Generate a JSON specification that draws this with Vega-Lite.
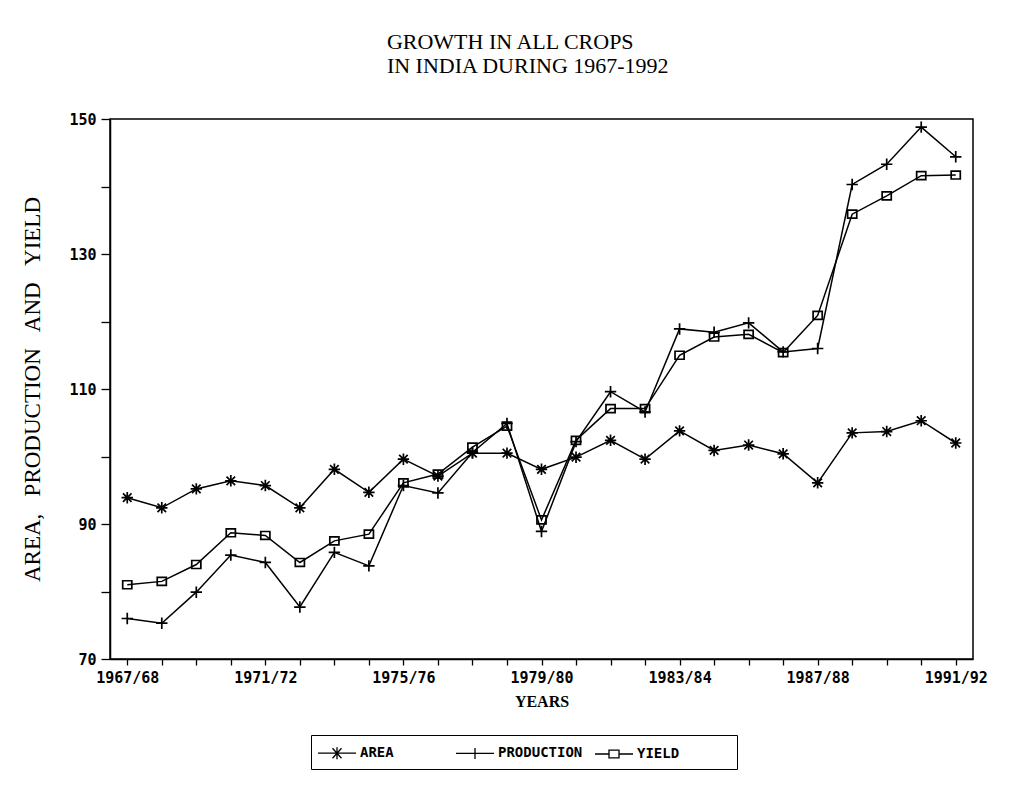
{
  "$schema": "https://vega.github.io/schema/vega-lite/v6.json",
  "width": 863,
  "height": 540,
  "autosize": {"type": "none"},
  "padding": {"left": 110, "top": 119, "right": 62, "bottom": 135},
  "background": "white",
  "title": {
    "text": "GROWTH IN ALL CROPS",
    "subtitle": "IN INDIA DURING 1967-1992",
    "anchor": "start",
    "dx": 365,
    "offset": 34,
    "font": "Liberation Serif",
    "fontSize": 22,
    "fontWeight": "normal",
    "color": "black",
    "subtitleFont": "Liberation Serif",
    "subtitleFontSize": 22,
    "subtitleColor": "black",
    "subtitlePadding": 2
  },
  "data": {
    "values": [
      {"year": "1967/68", "series": "AREA", "value": 93.9},
      {"year": "1968/69", "series": "AREA", "value": 92.4},
      {"year": "1969/70", "series": "AREA", "value": 95.2},
      {"year": "1970/71", "series": "AREA", "value": 96.4},
      {"year": "1971/72", "series": "AREA", "value": 95.7},
      {"year": "1972/73", "series": "AREA", "value": 92.4},
      {"year": "1973/74", "series": "AREA", "value": 98.1},
      {"year": "1974/75", "series": "AREA", "value": 94.7},
      {"year": "1975/76", "series": "AREA", "value": 99.6},
      {"year": "1976/77", "series": "AREA", "value": 97.1},
      {"year": "1977/78", "series": "AREA", "value": 100.5},
      {"year": "1978/79", "series": "AREA", "value": 100.5},
      {"year": "1979/80", "series": "AREA", "value": 98.1},
      {"year": "1980/81", "series": "AREA", "value": 99.9},
      {"year": "1981/82", "series": "AREA", "value": 102.4},
      {"year": "1982/83", "series": "AREA", "value": 99.6},
      {"year": "1983/84", "series": "AREA", "value": 103.8},
      {"year": "1984/85", "series": "AREA", "value": 100.9},
      {"year": "1985/86", "series": "AREA", "value": 101.7},
      {"year": "1986/87", "series": "AREA", "value": 100.4},
      {"year": "1987/88", "series": "AREA", "value": 96.1},
      {"year": "1988/89", "series": "AREA", "value": 103.5},
      {"year": "1989/90", "series": "AREA", "value": 103.7},
      {"year": "1990/91", "series": "AREA", "value": 105.3},
      {"year": "1991/92", "series": "AREA", "value": 102.0},
      {"year": "1967/68", "series": "PRODUCTION", "value": 76.0},
      {"year": "1968/69", "series": "PRODUCTION", "value": 75.3},
      {"year": "1969/70", "series": "PRODUCTION", "value": 79.9},
      {"year": "1970/71", "series": "PRODUCTION", "value": 85.4},
      {"year": "1971/72", "series": "PRODUCTION", "value": 84.3},
      {"year": "1972/73", "series": "PRODUCTION", "value": 77.7},
      {"year": "1973/74", "series": "PRODUCTION", "value": 85.8},
      {"year": "1974/75", "series": "PRODUCTION", "value": 83.8},
      {"year": "1975/76", "series": "PRODUCTION", "value": 95.7},
      {"year": "1976/77", "series": "PRODUCTION", "value": 94.6},
      {"year": "1977/78", "series": "PRODUCTION", "value": 100.6},
      {"year": "1978/79", "series": "PRODUCTION", "value": 104.9},
      {"year": "1979/80", "series": "PRODUCTION", "value": 88.9},
      {"year": "1980/81", "series": "PRODUCTION", "value": 102.2},
      {"year": "1981/82", "series": "PRODUCTION", "value": 109.6},
      {"year": "1982/83", "series": "PRODUCTION", "value": 106.6},
      {"year": "1983/84", "series": "PRODUCTION", "value": 118.9},
      {"year": "1984/85", "series": "PRODUCTION", "value": 118.4},
      {"year": "1985/86", "series": "PRODUCTION", "value": 119.8},
      {"year": "1986/87", "series": "PRODUCTION", "value": 115.5},
      {"year": "1987/88", "series": "PRODUCTION", "value": 116.0},
      {"year": "1988/89", "series": "PRODUCTION", "value": 140.3},
      {"year": "1989/90", "series": "PRODUCTION", "value": 143.3},
      {"year": "1990/91", "series": "PRODUCTION", "value": 148.8},
      {"year": "1991/92", "series": "PRODUCTION", "value": 144.4},
      {"year": "1967/68", "series": "YIELD", "value": 81.0},
      {"year": "1968/69", "series": "YIELD", "value": 81.5},
      {"year": "1969/70", "series": "YIELD", "value": 84.0},
      {"year": "1970/71", "series": "YIELD", "value": 88.7},
      {"year": "1971/72", "series": "YIELD", "value": 88.3},
      {"year": "1972/73", "series": "YIELD", "value": 84.3},
      {"year": "1973/74", "series": "YIELD", "value": 87.5},
      {"year": "1974/75", "series": "YIELD", "value": 88.5},
      {"year": "1975/76", "series": "YIELD", "value": 96.1},
      {"year": "1976/77", "series": "YIELD", "value": 97.4},
      {"year": "1977/78", "series": "YIELD", "value": 101.4},
      {"year": "1978/79", "series": "YIELD", "value": 104.5},
      {"year": "1979/80", "series": "YIELD", "value": 90.6},
      {"year": "1980/81", "series": "YIELD", "value": 102.4},
      {"year": "1981/82", "series": "YIELD", "value": 107.1},
      {"year": "1982/83", "series": "YIELD", "value": 107.1},
      {"year": "1983/84", "series": "YIELD", "value": 115.0},
      {"year": "1984/85", "series": "YIELD", "value": 117.7},
      {"year": "1985/86", "series": "YIELD", "value": 118.1},
      {"year": "1986/87", "series": "YIELD", "value": 115.4},
      {"year": "1987/88", "series": "YIELD", "value": 120.9},
      {"year": "1988/89", "series": "YIELD", "value": 135.9},
      {"year": "1989/90", "series": "YIELD", "value": 138.6},
      {"year": "1990/91", "series": "YIELD", "value": 141.6},
      {"year": "1991/92", "series": "YIELD", "value": 141.7}
    ]
  },
  "encoding": {
    "x": {
      "field": "year",
      "type": "ordinal",
      "scale": {"type": "point", "padding": 0.5},
      "axis": {
        "title": "YEARS",
        "titleFont": "Liberation Serif",
        "titleFontSize": 16,
        "titleFontWeight": "bold",
        "titlePadding": 8,
        "labelAngle": 0,
        "labelFont": "DejaVu Sans Mono",
        "labelFontWeight": "bold",
        "labelFontSize": 15,
        "labelOverlap": false,
        "labelPadding": 5,
        "labelExpr": "toNumber(slice(datum.value, 0, 4)) % 4 == 3 ? datum.value : ''",
        "tickSize": 6
      }
    },
    "y": {
      "field": "value",
      "type": "quantitative",
      "scale": {"domain": [70, 150], "nice": false, "zero": false},
      "axis": {
        "title": "AREA,\u00a0\u00a0 PRODUCTION\u00a0\u00a0 AND\u00a0\u00a0 YIELD",
        "titleFont": "Liberation Serif",
        "titleFontSize": 23,
        "titleFontWeight": "normal",
        "titlePadding": 24,
        "values": [70, 80, 90, 100, 110, 120, 130, 140, 150],
        "labelExpr": "datum.value % 20 == 10 ? datum.label : ''",
        "labelFont": "DejaVu Sans Mono",
        "labelFontWeight": "bold",
        "labelFontSize": 15,
        "labelPadding": 5,
        "tickSize": 9
      }
    }
  },
  "layer": [
    {
      "mark": {"type": "line", "color": "black", "strokeWidth": 1.5},
      "encoding": {"detail": {"field": "series", "type": "nominal"}}
    },
    {
      "mark": {"type": "point", "filled": false, "color": "black", "strokeWidth": 1.7, "size": 130, "opacity": 1},
      "encoding": {
        "shape": {
          "field": "series",
          "type": "nominal",
          "scale": {
            "domain": ["AREA", "PRODUCTION", "YIELD"],
            "range": [
              "M-1,0L1,0M0,-1L0,1M-0.75,-0.75L0.75,0.75M-0.75,0.75L0.75,-0.75",
              "M-1,0L1,0M0,-1L0,1",
              "M-0.8,-0.7L0.8,-0.7L0.8,0.7L-0.8,0.7Z"
            ]
          },
          "legend": null
        }
      }
    },
    {
      "transform": [{"filter": "false"}],
      "mark": {"type": "point", "filled": false, "color": "black", "strokeWidth": 1.3, "opacity": 1},
      "encoding": {
        "shape": {
          "field": "series",
          "type": "nominal",
          "scale": {
            "domain": ["AREA", "PRODUCTION", "YIELD"],
            "range": [
              "M-1.9,0L1.9,0M-0.6,0L0.6,0M0,-0.6L0,0.6M-0.45,-0.5L0.45,0.5M-0.45,0.5L0.45,-0.5",
              "M-1.9,0L1.9,0M0,-0.55L0,0.55",
              "M-1.9,0L-0.5,0M0.5,0L1.9,0M-0.5,-0.38L0.5,-0.38L0.5,0.38L-0.5,0.38Z"
            ]
          },
          "legend": {
            "title": null,
            "orient": "none",
            "legendX": 201,
            "legendY": 616,
            "direction": "horizontal",
            "strokeColor": "black",
            "padding": 7,
            "gridAlign": "each",
            "columnPadding": 9,
            "labelFont": "DejaVu Sans Mono",
            "labelFontWeight": "bold",
            "labelFontSize": 14,
            "labelColor": "black",
            "labelLimit": 400,
            "labelExpr": "datum.label == 'AREA' ? 'AREA\u2800\u2800\u2800\u2800\u2800' : datum.label == 'YIELD' ? 'YIELD\u2800\u2800\u2800\u2800\u2800' : datum.label",
            "symbolSize": 400,
            "symbolStrokeColor": "black",
            "symbolStrokeWidth": 1.3,
            "symbolFillColor": "transparent",
            "symbolOffset": 8,
            "labelOffset": 12
          }
        }
      }
    }
  ],
  "resolve": {"scale": {"shape": "independent"}, "legend": {"shape": "independent"}},
  "config": {
    "view": {"stroke": "black", "strokeWidth": 1.5},
    "axis": {
      "grid": false,
      "domainColor": "black",
      "domainWidth": 1.5,
      "tickColor": "black",
      "tickWidth": 1.3,
      "labelColor": "black",
      "titleColor": "black"
    }
  }
}
